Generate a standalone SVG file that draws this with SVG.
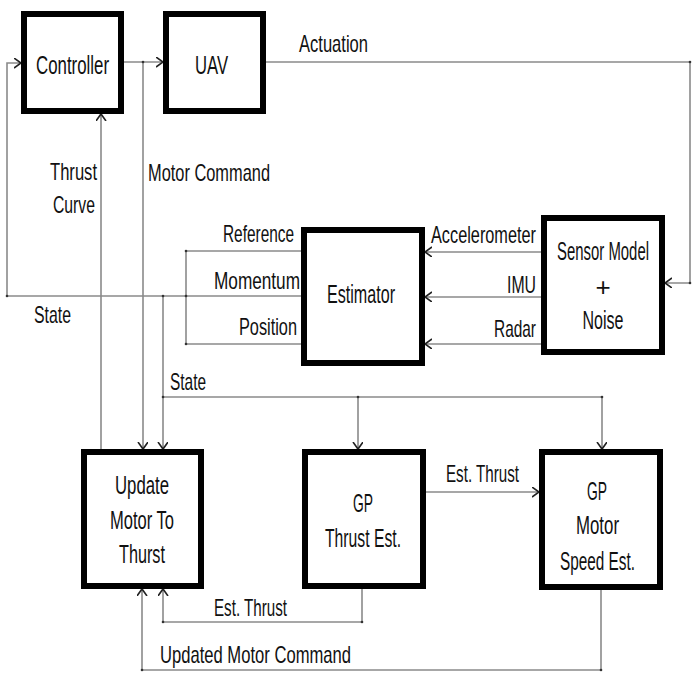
<svg xmlns="http://www.w3.org/2000/svg" width="700" height="700" viewBox="0 0 700 700">
<style>
.box{fill:#fff;stroke:#000;stroke-width:6}
.ln{fill:none;stroke:#8a8a8a;stroke-width:1.6}
.t{font-family:"Liberation Sans",Arial,sans-serif;font-size:26px;fill:#111}
.l{font-family:"Liberation Sans",Arial,sans-serif;font-size:24px;fill:#111}
.dot{fill:#333}
</style>
<defs>
<marker id="ah" markerUnits="userSpaceOnUse" markerWidth="12" markerHeight="12" refX="7" refY="5" orient="auto">
<path d="M0,0 L7,5 L0,10" fill="none" stroke="#222" stroke-width="1.6"/>
</marker>
</defs>
<rect width="700" height="700" fill="#fff"/>
<g id="connectors">
<path class="ln" d="M7,296 V63 H21" marker-end="url(#ah)"/>
<path class="ln" d="M124,62 H163" marker-end="url(#ah)"/>
<path class="ln" d="M143,62 V449" marker-end="url(#ah)"/>
<path class="ln" d="M101,449 V114" marker-end="url(#ah)"/>
<path class="ln" d="M266,62 H690 V283 H665" marker-end="url(#ah)"/>
<path class="ln" d="M541,252 H425" marker-end="url(#ah)"/>
<path class="ln" d="M541,297 H425" marker-end="url(#ah)"/>
<path class="ln" d="M541,344 H425" marker-end="url(#ah)"/>
<path class="ln" d="M301,251 H186 V344 H301"/>
<path class="ln" d="M301,296 H7"/>
<path class="ln" d="M163,296 V449" marker-end="url(#ah)"/>
<path class="ln" d="M163,397 H602"/>
<path class="ln" d="M358,397 V449" marker-end="url(#ah)"/>
<path class="ln" d="M602,397 V449" marker-end="url(#ah)"/>
<path class="ln" d="M426,492 H539" marker-end="url(#ah)"/>
<path class="ln" d="M362,589 V622 H163 V589" marker-end="url(#ah)"/>
<path class="ln" d="M601,590 V670 H142 V589" marker-end="url(#ah)"/>
<circle class="dot" cx="7" cy="296" r="1.3"/>
<circle class="dot" cx="143" cy="62" r="1.3"/>
<circle class="dot" cx="690" cy="62" r="1.3"/>
<circle class="dot" cx="690" cy="283" r="1.3"/>
<circle class="dot" cx="186" cy="251" r="1.3"/>
<circle class="dot" cx="186" cy="344" r="1.3"/>
<circle class="dot" cx="186" cy="296" r="1.3"/>
<circle class="dot" cx="163" cy="296" r="1.3"/>
<circle class="dot" cx="163" cy="397" r="1.3"/>
<circle class="dot" cx="358" cy="397" r="1.3"/>
<circle class="dot" cx="602" cy="397" r="1.3"/>
<circle class="dot" cx="362" cy="622" r="1.3"/>
<circle class="dot" cx="163" cy="622" r="1.3"/>
<circle class="dot" cx="601" cy="670" r="1.3"/>
<circle class="dot" cx="142" cy="670" r="1.3"/>
</g>
<g id="labels">
<text class="l" x="299" y="52" textLength="69" lengthAdjust="spacingAndGlyphs">Actuation</text>
<text class="l" x="50" y="180" textLength="47" lengthAdjust="spacingAndGlyphs">Thrust</text>
<text class="l" x="53" y="213" textLength="42" lengthAdjust="spacingAndGlyphs">Curve</text>
<text class="l" x="148" y="181" textLength="122" lengthAdjust="spacingAndGlyphs">Motor Command</text>
<text class="l" x="223" y="242" textLength="71" lengthAdjust="spacingAndGlyphs">Reference</text>
<text class="l" x="214" y="289" textLength="86" lengthAdjust="spacingAndGlyphs">Momentum</text>
<text class="l" x="239" y="335" textLength="58" lengthAdjust="spacingAndGlyphs">Position</text>
<text class="l" x="34" y="323" textLength="37" lengthAdjust="spacingAndGlyphs">State</text>
<text class="l" x="431" y="243" textLength="105" lengthAdjust="spacingAndGlyphs">Accelerometer</text>
<text class="l" x="507" y="293" textLength="29" lengthAdjust="spacingAndGlyphs">IMU</text>
<text class="l" x="494" y="337" textLength="42" lengthAdjust="spacingAndGlyphs">Radar</text>
<text class="l" x="170" y="390" textLength="36" lengthAdjust="spacingAndGlyphs">State</text>
<text class="l" x="446" y="482" textLength="73" lengthAdjust="spacingAndGlyphs">Est. Thrust</text>
<text class="l" x="214" y="616" textLength="73" lengthAdjust="spacingAndGlyphs">Est. Thrust</text>
<text class="l" x="160" y="663" textLength="191" lengthAdjust="spacingAndGlyphs">Updated Motor Command</text>
</g>
<g id="controller">
<rect class="box" x="24" y="14" width="97" height="97"/>
<text class="t" x="36" y="74" textLength="73" lengthAdjust="spacingAndGlyphs">Controller</text>
</g>
<g id="uav">
<rect class="box" x="166" y="14" width="97" height="97"/>
<text class="t" x="195" y="74" textLength="33" lengthAdjust="spacingAndGlyphs">UAV</text>
</g>
<g id="estimator">
<rect class="box" x="304" y="230" width="118" height="133"/>
<text class="t" x="327" y="303" textLength="68" lengthAdjust="spacingAndGlyphs">Estimator</text>
</g>
<g id="sensor-model">
<rect class="box" x="544" y="218" width="118" height="134"/>
<text class="t" x="603" y="260" text-anchor="middle" font-size="24" textLength="92" lengthAdjust="spacingAndGlyphs">Sensor Model</text>
<text class="t" x="603" y="296" text-anchor="middle">+</text>
<text class="t" x="603" y="329" text-anchor="middle" textLength="41" lengthAdjust="spacingAndGlyphs">Noise</text>
</g>
<g id="update-motor">
<rect class="box" x="84" y="452" width="117" height="134"/>
<text class="t" x="115" y="494" textLength="54" lengthAdjust="spacingAndGlyphs">Update</text>
<text class="t" x="110" y="529" textLength="64" lengthAdjust="spacingAndGlyphs">Motor To</text>
<text class="t" x="119" y="563" textLength="46" lengthAdjust="spacingAndGlyphs">Thurst</text>
</g>
<g id="gp-thrust">
<rect class="box" x="305" y="452" width="118" height="134"/>
<text class="t" x="353" y="512" textLength="20" lengthAdjust="spacingAndGlyphs">GP</text>
<text class="t" x="325" y="547" textLength="76" lengthAdjust="spacingAndGlyphs">Thrust Est.</text>
</g>
<g id="gp-motor">
<rect class="box" x="542" y="452" width="118" height="135"/>
<text class="t" x="587" y="500" textLength="20" lengthAdjust="spacingAndGlyphs">GP</text>
<text class="t" x="576" y="534" textLength="43" lengthAdjust="spacingAndGlyphs">Motor</text>
<text class="t" x="560" y="570" textLength="75" lengthAdjust="spacingAndGlyphs">Speed Est.</text>
</g>
</svg>
